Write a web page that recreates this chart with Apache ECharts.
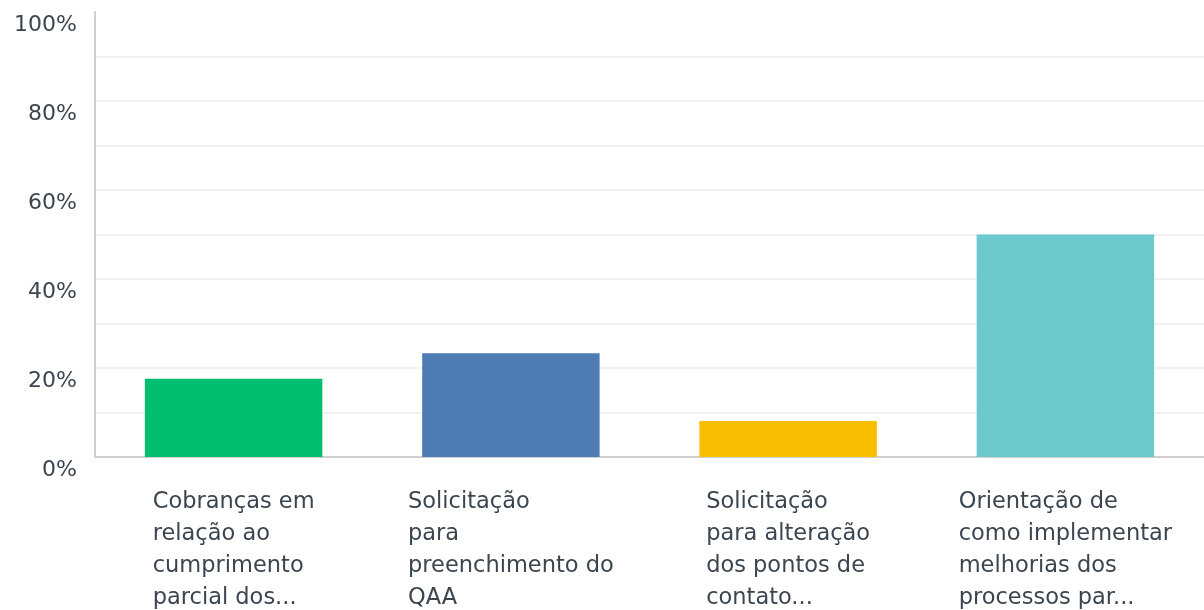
<!DOCTYPE html>
<html>
<head>
<meta charset="utf-8">
<script src="https://cdn.jsdelivr.net/npm/echarts@6/dist/echarts.min.js"></script>
<style>html,body{margin:0;padding:0;background:#fff}#c{width:1204px;height:610px}</style>
</head>
<body>
<div id="c"></div>
<script>
const categories = [
  "Cobranças em\nrelação ao\ncumprimento\nparcial dos...",
  "Solicitação\npara\npreenchimento do\nQAA",
  "Solicitação\npara alteração\ndos pontos de\ncontato...",
  "Orientação de\ncomo implementar\nmelhorias dos\nprocessos par..."
];
const values = [17.6, 23.3, 8.1, 50];
const barColors = ["#00bf6f", "#507cb6", "#f9be00", "#6bc8cd"];
const yTicks = [0, 20, 40, 60, 80, 100];

const chart = echarts.init(document.getElementById('c'), null, {renderer: 'canvas'});
const font = "'DejaVu Sans', sans-serif";
chart.setOption({
  animation: false,
  grid: {left: 95, right: 0, top: 12, bottom: 153},
  xAxis: {
    type: 'category',
    data: categories,
    axisLine: {lineStyle: {color: '#d0d0d0', width: 2}},
    axisTick: {show: false},
    axisLabel: {
      interval: 0,
      margin: 29,
      formatter: function (v) {
        return v.split('\n').map(function (l) { return '{l|' + l + '}'; }).join('\n');
      },
      rich: {
        l: {align: 'left', fontSize: 22.5, lineHeight: 32, color: '#3b4550', fontFamily: font}
      }
    }
  },
  yAxis: {
    type: 'value',
    min: 0, max: 100, interval: 10,
    axisLine: {show: true, lineStyle: {color: '#d0d0d0', width: 2}},
    axisTick: {show: false},
    splitLine: {show: true, showMaxLine: false, lineStyle: {color: '#ececec', width: 1.5}},
    axisLabel: {
      formatter: function (v) { return yTicks.indexOf(v) >= 0 ? v + '%' : ''; },
      verticalAlign: 'top',
      lineHeight: 26,
      margin: 18,
      fontSize: 22,
      color: '#3b4550',
      fontFamily: font
    }
  },
  series: [{
    type: 'bar',
    barCategoryGap: '36%',
    data: values.map(function (v, i) { return {value: v, itemStyle: {color: barColors[i]}}; })
  }]
});
</script>
</body>
</html>
